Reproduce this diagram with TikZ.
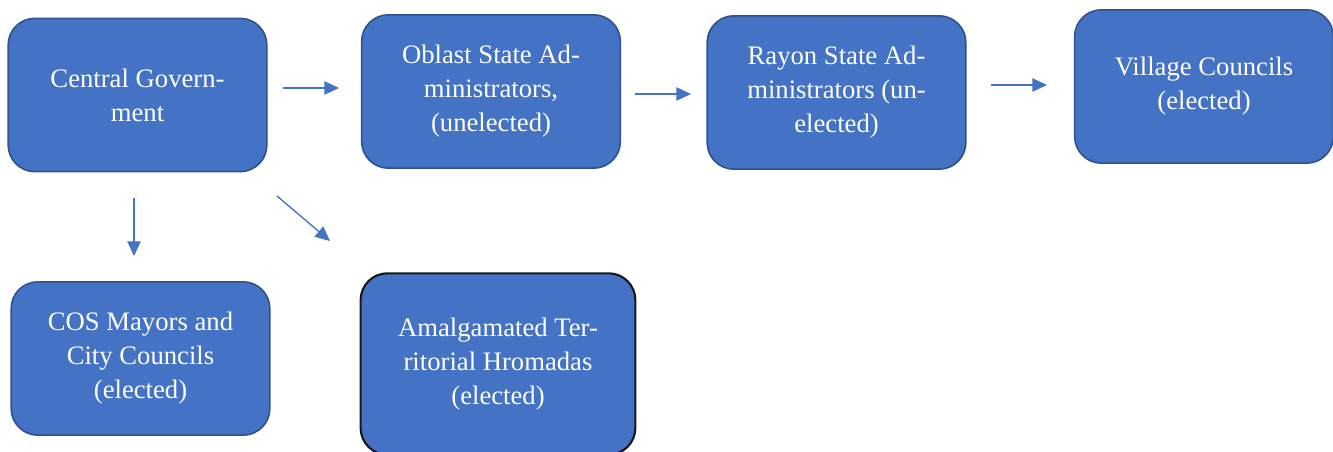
\documentclass[tikz,border=0pt]{standalone}
\usepackage{fontspec}
\setmainfont{Liberation Serif}
\usetikzlibrary{arrows.meta,positioning}
\definecolor{boxblue}{HTML}{4472C4}
\definecolor{boxedge}{HTML}{2F528F}
\tikzset{
x=0.75pt, y=-0.75pt,
unit/.style={rectangle,rounded corners=20pt,fill=boxblue,draw=boxedge,line width=1.2pt,
  minimum width=194pt,minimum height=115pt,text=white,align=center,
  font=\fontsize{20}{25.5}\selectfont},
elected/.style={unit,draw=black!90,line width=1.6pt,minimum width=206pt,minimum height=136pt},
link/.style={draw=boxblue,line width=1pt,-{Triangle[length=11pt,width=10pt]}},
}

\begin{document}
\begin{tikzpicture}
\useasboundingbox (0,0) rectangle (1333,452);
\node[unit] (central) at (137.5,95) {Central Govern-\\ment};
\node[unit] (oblast) at (491,91.5) {Oblast State Ad-\\ministrators,\\(unelected)};
\node[unit] (rayon) at (836.5,92.5) {Rayon State Ad-\\ministrators (un-\\elected)};
\node[unit] (village) at (1204,86.5) {Village Councils\\(elected)};
\node[unit] (cos) at (140.5,358.5) {COS Mayors and\\City Councils\\(elected)};
\node[elected] (hromadas) at (498,364) {Amalgamated Ter-\\ritorial Hromadas\\(elected)};
% free-standing arrows
\coordinate (c1) at (283,88);  \coordinate (c2) at (339,88);
\coordinate (c3) at (635,94);  \coordinate (c4) at (691,94);
\coordinate (c5) at (991,85);  \coordinate (c6) at (1047,85);
\coordinate (c7) at (134,198); \coordinate (c8) at (134,256);
\coordinate (c9) at (277,196); \coordinate (c10) at (330,241);
\draw[link] (c1) -- (c2);
\draw[link] (c3) -- (c4);
\draw[link] (c5) -- (c6);
\draw[link] (c7) -- (c8);
\draw[link] (c9) -- (c10);
\end{tikzpicture}
\end{document}
